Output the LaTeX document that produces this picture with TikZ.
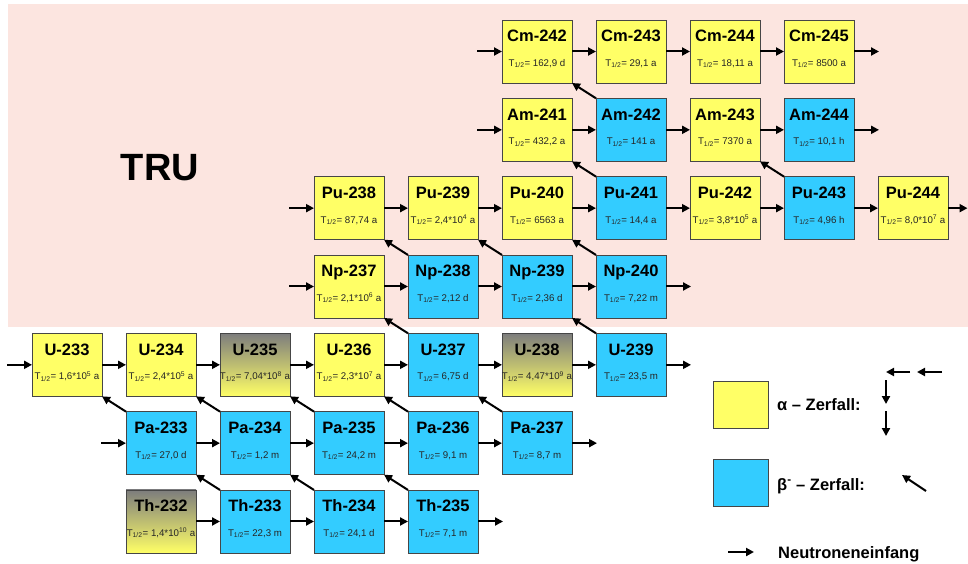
\documentclass[tikz,border=0pt]{standalone}
\usepackage{fontspec}
\setmainfont{Liberation Sans}
\usetikzlibrary{arrows.meta,calc}
\definecolor{yel}{RGB}{255,255,102}
\definecolor{blu}{RGB}{51,204,255}
\definecolor{pinkbg}{RGB}{252,229,224}
\definecolor{gry}{RGB}{125,125,125}
\definecolor{edgec}{RGB}{70,70,70}
\tikzset{
  box/.style={draw=edgec, line width=0.9pt, minimum width=70pt, minimum height=63pt, inner sep=0pt, outer sep=0pt},
  ybox/.style={box, fill=yel},
  bbox/.style={box, fill=blu},
  gbox/.style={box, top color=gry, bottom color=yel, shading angle=0},
  nm/.style={font=\fontsize{16.5}{18}\selectfont\bfseries, inner sep=0pt, anchor=base},
  hl/.style={font=\fontsize{9.7}{11}\selectfont, text=black!85, inner sep=0pt, anchor=base},
  leg/.style={font=\fontsize{16.5}{18}\selectfont\bfseries, inner sep=0pt, anchor=base west},
  narr/.style={-{Triangle[length=8pt,width=8pt]}, line width=2pt},
}
\newcommand\Nuk[6]{%
  \node[#5] (#1) at ({67+94*#3},{51.5+78.33*#4}) {};
  \node[nm] (#1n) at ($(#1.north)+(0,22)$) {#2};
  \node[hl] (#1t) at ($(#1.north)+(0,46.5)$) {T\textsubscript{1/2}= #6};
}
\newcommand\InArr[1]{%
  \coordinate (#1in) at ($(#1.west)+(-25,0)$);
  \draw[narr] (#1in) -- (#1.west);
}
\newcommand\OutArr[2][25]{%
  \coordinate (#2out) at ($(#2.east)+(#1,0)$);
  \draw[narr] (#2.east) -- (#2out);
}
\begin{document}
\begin{tikzpicture}[x=1pt,y=-1pt]
\useasboundingbox (0,0) rectangle (968,564);
\fill[pinkbg] (8,4) rectangle (968,327);
\node[font=\fontsize{38}{40}\selectfont\bfseries, inner sep=0pt, anchor=base] (tru) at (160,181) {TRU};

% Cm row
\Nuk{Cm242}{Cm-242}{5}{0}{ybox}{162,9 d}
\Nuk{Cm243}{Cm-243}{6}{0}{ybox}{29,1 a}
\Nuk{Cm244}{Cm-244}{7}{0}{ybox}{18,11 a}
\Nuk{Cm245}{Cm-245}{8}{0}{ybox}{8500 a}
% Am row
\Nuk{Am241}{Am-241}{5}{1}{ybox}{432,2 a}
\Nuk{Am242}{Am-242}{6}{1}{bbox}{141 a}
\Nuk{Am243}{Am-243}{7}{1}{ybox}{7370 a}
\Nuk{Am244}{Am-244}{8}{1}{bbox}{10,1 h}
% Pu row
\Nuk{Pu238}{Pu-238}{3}{2}{ybox}{87,74 a}
\Nuk{Pu239}{Pu-239}{4}{2}{ybox}{2,4*10\textsuperscript{4} a}
\Nuk{Pu240}{Pu-240}{5}{2}{ybox}{6563 a}
\Nuk{Pu241}{Pu-241}{6}{2}{bbox}{14,4 a}
\Nuk{Pu242}{Pu-242}{7}{2}{ybox}{3,8*10\textsuperscript{5} a}
\Nuk{Pu243}{Pu-243}{8}{2}{bbox}{4,96 h}
\Nuk{Pu244}{Pu-244}{9}{2}{ybox}{8,0*10\textsuperscript{7} a}
% Np row
\Nuk{Np237}{Np-237}{3}{3}{ybox}{2,1*10\textsuperscript{6} a}
\Nuk{Np238}{Np-238}{4}{3}{bbox}{2,12 d}
\Nuk{Np239}{Np-239}{5}{3}{bbox}{2,36 d}
\Nuk{Np240}{Np-240}{6}{3}{bbox}{7,22 m}
% U row
\Nuk{U233}{U-233}{0}{4}{ybox}{1,6*10\textsuperscript{5} a}
\Nuk{U234}{U-234}{1}{4}{ybox}{2,4*10\textsuperscript{5} a}
\Nuk{U235}{U-235}{2}{4}{gbox}{7,04*10\textsuperscript{8} a}
\Nuk{U236}{U-236}{3}{4}{ybox}{2,3*10\textsuperscript{7} a}
\Nuk{U237}{U-237}{4}{4}{bbox}{6,75 d}
\Nuk{U238}{U-238}{5}{4}{gbox}{4,47*10\textsuperscript{9} a}
\Nuk{U239}{U-239}{6}{4}{bbox}{23,5 m}
% Pa row
\Nuk{Pa233}{Pa-233}{1}{5}{bbox}{27,0 d}
\Nuk{Pa234}{Pa-234}{2}{5}{bbox}{1,2 m}
\Nuk{Pa235}{Pa-235}{3}{5}{bbox}{24,2 m}
\Nuk{Pa236}{Pa-236}{4}{5}{bbox}{9,1 m}
\Nuk{Pa237}{Pa-237}{5}{5}{bbox}{8,7 m}
% Th row
\Nuk{Th232}{Th-232}{1}{6}{gbox}{1,4*10\textsuperscript{10} a}
\Nuk{Th233}{Th-233}{2}{6}{bbox}{22,3 m}
\Nuk{Th234}{Th-234}{3}{6}{bbox}{24,1 d}
\Nuk{Th235}{Th-235}{4}{6}{bbox}{7,1 m}

% neutron capture arrows
\InArr{Cm242}
\draw[narr] (Cm242.east) -- (Cm243.west);
\draw[narr] (Cm243.east) -- (Cm244.west);
\draw[narr] (Cm244.east) -- (Cm245.west);
\OutArr{Cm245}
\InArr{Am241}
\draw[narr] (Am241.east) -- (Am242.west);
\draw[narr] (Am242.east) -- (Am243.west);
\draw[narr] (Am243.east) -- (Am244.west);
\OutArr{Am244}
\InArr{Pu238}
\draw[narr] (Pu238.east) -- (Pu239.west);
\draw[narr] (Pu239.east) -- (Pu240.west);
\draw[narr] (Pu240.east) -- (Pu241.west);
\draw[narr] (Pu241.east) -- (Pu242.west);
\draw[narr] (Pu242.east) -- (Pu243.west);
\draw[narr] (Pu243.east) -- (Pu244.west);
\OutArr[19.5]{Pu244}
\InArr{Np237}
\draw[narr] (Np237.east) -- (Np238.west);
\draw[narr] (Np238.east) -- (Np239.west);
\draw[narr] (Np239.east) -- (Np240.west);
\OutArr{Np240}
\InArr{U233}
\draw[narr] (U233.east) -- (U234.west);
\draw[narr] (U234.east) -- (U235.west);
\draw[narr] (U235.east) -- (U236.west);
\draw[narr] (U236.east) -- (U237.west);
\draw[narr] (U237.east) -- (U238.west);
\draw[narr] (U238.east) -- (U239.west);
\OutArr{U239}
\InArr{Pa233}
\draw[narr] (Pa233.east) -- (Pa234.west);
\draw[narr] (Pa234.east) -- (Pa235.west);
\draw[narr] (Pa235.east) -- (Pa236.west);
\draw[narr] (Pa236.east) -- (Pa237.west);
\OutArr{Pa237}
\draw[narr] (Th232.east) -- (Th233.west);
\draw[narr] (Th233.east) -- (Th234.west);
\draw[narr] (Th234.east) -- (Th235.west);
\OutArr{Th235}

% beta decay arrows
\draw[narr] (Am242.north west) -- (Cm242.south east);
\draw[narr] (Pu241.north west) -- (Am241.south east);
\draw[narr] (Pu243.north west) -- (Am243.south east);
\draw[narr] (Np238.north west) -- (Pu238.south east);
\draw[narr] (Np239.north west) -- (Pu239.south east);
\draw[narr] (Np240.north west) -- (Pu240.south east);
\draw[narr] (U237.north west) -- (Np237.south east);
\draw[narr] (U239.north west) -- (Np239.south east);
\draw[narr] (Pa233.north west) -- (U233.south east);
\draw[narr] (Pa234.north west) -- (U234.south east);
\draw[narr] (Pa235.north west) -- (U235.south east);
\draw[narr] (Pa236.north west) -- (U236.south east);
\draw[narr] (Pa237.north west) -- (U237.south east);
\draw[narr] (Th233.north west) -- (Pa233.south east);
\draw[narr] (Th234.north west) -- (Pa234.south east);
\draw[narr] (Th235.north west) -- (Pa235.south east);

% legend
\node[box, fill=yel, minimum width=55pt, minimum height=47pt] (legA) at (740.5,404.5) {};
\node[box, fill=blu, minimum width=55pt, minimum height=47pt] (legB) at (740.5,482.5) {};
\node[leg] (legAt) at (777,410) {α – Zerfall:};
\node[leg] (legBt) at (777,490) {β\textsuperscript{-} – Zerfall:};
\node[leg] (legNt) at (778,558) {Neutroneneinfang};
\coordinate (a1s) at (942,372); \coordinate (a1e) at (917,372);
\coordinate (a2s) at (910,372); \coordinate (a2e) at (886,372);
\coordinate (d1s) at (886,380); \coordinate (d1e) at (886,404);
\coordinate (d2s) at (886,411); \coordinate (d2e) at (886,436);
\coordinate (bs) at (926,491); \coordinate (be) at (902,475);
\coordinate (ns) at (728,552); \coordinate (ne) at (754,552);
\draw[narr] (a1s) -- (a1e);
\draw[narr] (a2s) -- (a2e);
\draw[narr] (d1s) -- (d1e);
\draw[narr] (d2s) -- (d2e);
\draw[narr] (bs) -- (be);
\draw[narr] (ns) -- (ne);
\end{tikzpicture}
\end{document}
